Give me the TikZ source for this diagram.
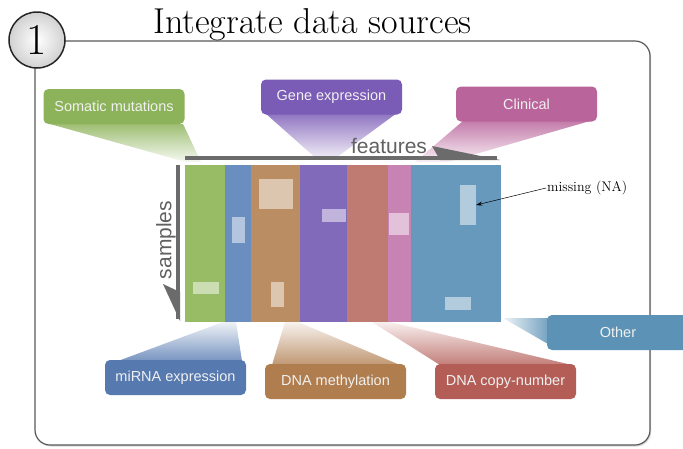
\documentclass[tikz,border=0pt]{standalone}
\usepackage{fontspec}
\setsansfont{Liberation Sans}
\usetikzlibrary{arrows.meta, positioning, shadows}

\definecolor{gGreen}{HTML}{8DB35A}
\definecolor{gPurple}{HTML}{7A5BB5}
\definecolor{gPink}{HTML}{B9649B}
\definecolor{gBlue}{HTML}{5679B0}
\definecolor{gBrown}{HTML}{B07D4F}
\definecolor{gRed}{HTML}{B35D56}
\definecolor{gSteel}{HTML}{5C92B5}
\definecolor{cGreen}{HTML}{98BC66}
\definecolor{cBlue}{HTML}{6A8EBF}
\definecolor{cBrown}{HTML}{BA8D62}
\definecolor{cPurple}{HTML}{826ABB}
\definecolor{cRed}{HTML}{BF7A71}
\definecolor{cPink}{HTML}{C783B3}
\definecolor{cSteel}{HTML}{6699BC}

\begin{document}
\begin{tikzpicture}[
    x=1pt, y=-1pt,
    node distance = 0pt and 0pt,
    boks/.style = {rectangle, rounded corners=5pt, minimum width=141pt, minimum height=35pt,
                   text=white!94!black, font=\sffamily\fontsize{14.5}{16}\selectfont},
    kol/.style = {rectangle, inner sep=0pt, outer sep=0pt, minimum height=157pt},
    hull/.style = {rectangle, inner sep=0pt, fill=white, fill opacity=.5},
    akse/.style = {line width=4pt, draw=black!58},
    pil/.style = {black, line width=.5pt, -{Stealth[length=6pt,width=4pt]}},
    etikett/.style = {text=black!62, font=\sffamily\fontsize{21}{21}\selectfont}
    ]

  \useasboundingbox (0,0) rectangle (683,448);
  \clip (0,0) rectangle (683,448);

  % frame, number, title
  \draw[draw=black!65, line width=1.2pt, fill=white, rounded corners=15pt,
        drop shadow={shadow xshift=1.2pt, shadow yshift=-1.5pt, opacity=.3}]
        (35,41) rectangle (650,445);
  \node[circle, draw=black!85, line width=1.5pt, minimum size=56pt, inner sep=0pt,
        inner color=white, outer color=black!18,
        font=\fontsize{44}{44}\selectfont] (nr) at (37,40) {1};
  \node[font=\fontsize{36}{40}\selectfont, anchor=base west, inner sep=0pt] (tittel) at (153,33) {Integrate data sources};

  % callout wedges
  \shade[top color=gGreen!85, bottom color=gGreen!8] (50,124) -- (183,124) -- (201,162) -- (186,162) -- cycle;
  \shade[top color=gPurple!85, bottom color=gPurple!8] (265,113) -- (397,113) -- (333,160) -- (318,160) -- cycle;
  \shade[top color=gPink!85, bottom color=gPink!10] (463,121) -- (590,121) -- (448,162) -- (415,162) -- cycle;
  \shade[top color=gBlue!10, bottom color=gBlue!80] (223,322) -- (236,322) -- (242,361) -- (118,361) -- cycle;
  \shade[top color=gBrown!10, bottom color=gBrown!80] (285,322) -- (298,322) -- (400,365) -- (272,365) -- cycle;
  \shade[top color=gRed!10, bottom color=gRed!80] (372,322) -- (390,322) -- (572,365) -- (440,365) -- cycle;
  \shade[left color=gSteel!10, right color=gSteel!85] (503,318) -- (548,318) -- (548,344) -- cycle;

  \node[boks, fill=gGreen] (somatic) at (114,106.5) {Somatic mutations};
  \node[boks, fill=gPurple] (geneexp) at (331.5,97) {Gene expression};
  \node[boks, fill=gPink] (clinical) at (526.5,104) {Clinical};
  \node[boks, fill=gBlue] (mirna) at (175.5,377.5) {miRNA expression};
  \node[boks, fill=gBrown] (methyl) at (335.5,381.5) {DNA methylation};
  \node[boks, fill=gRed] (copynum) at (505.5,381.5) {DNA copy-number};
  \node[boks, fill=gSteel, minimum width=142pt] (other) at (618,332.5) {Other};

  % data matrix
  \node[kol, minimum width=40pt, fill=cGreen, anchor=north west] (mut) at (185,165) {};
  \node[kol, minimum width=26pt, fill=cBlue] (mir) [right=of mut] {};
  \node[kol, minimum width=49pt, fill=cBrown] (met) [right=of mir] {};
  \node[kol, minimum width=47pt, fill=cPurple] (gen) [right=of met] {};
  \node[kol, minimum width=41pt, fill=cRed] (cnv) [right=of gen] {};
  \node[kol, minimum width=23pt, fill=cPink] (cli) [right=of cnv] {};
  \node[kol, minimum width=90pt, fill=cSteel] (oth) [right=of cli] {};

  \node[hull, minimum width=26pt, minimum height=12pt] (h1) at (206,288) {};
  \node[hull, minimum width=13pt, minimum height=26pt] (h2) at (238.5,230) {};
  \node[hull, minimum width=34pt, minimum height=30pt] (h3) at (276,194) {};
  \node[hull, minimum width=13pt, minimum height=25pt] (h4) at (277.5,294.5) {};
  \node[hull, minimum width=24pt, minimum height=13pt] (h5) at (334,215.5) {};
  \node[hull, minimum width=20pt, minimum height=22pt] (h6) at (399,224) {};
  \node[hull, minimum width=16pt, minimum height=40pt] (hna) at (468,205) {};
  \node[hull, minimum width=26pt, minimum height=13pt] (h8) at (458,303.5) {};

  % axes
  \coordinate (f0) at (185,158);
  \coordinate (f1) at (497,158);
  \coordinate (s0) at (178,165);
  \coordinate (s1) at (178,319);
  \draw[akse] (f0) -- (f1);
  \fill[black!58] (432,146) -- (500,160) -- (440,160) -- cycle;
  \draw[akse] (s0) -- (s1);
  \fill[black!58] (163,284) -- (180,321) -- (180,292) -- cycle;
  \node[etikett, anchor=base] (feat) at (389,153) {features};
  \node[etikett, rotate=90] (samp) at (166,240) {samples};

  \node[font=\fontsize{14}{16}\selectfont, anchor=west, inner sep=1pt] (na) at (546,188) {missing (NA)};
  \draw[pil] (na.west) -- (hna.east);
\end{tikzpicture}
\end{document}
